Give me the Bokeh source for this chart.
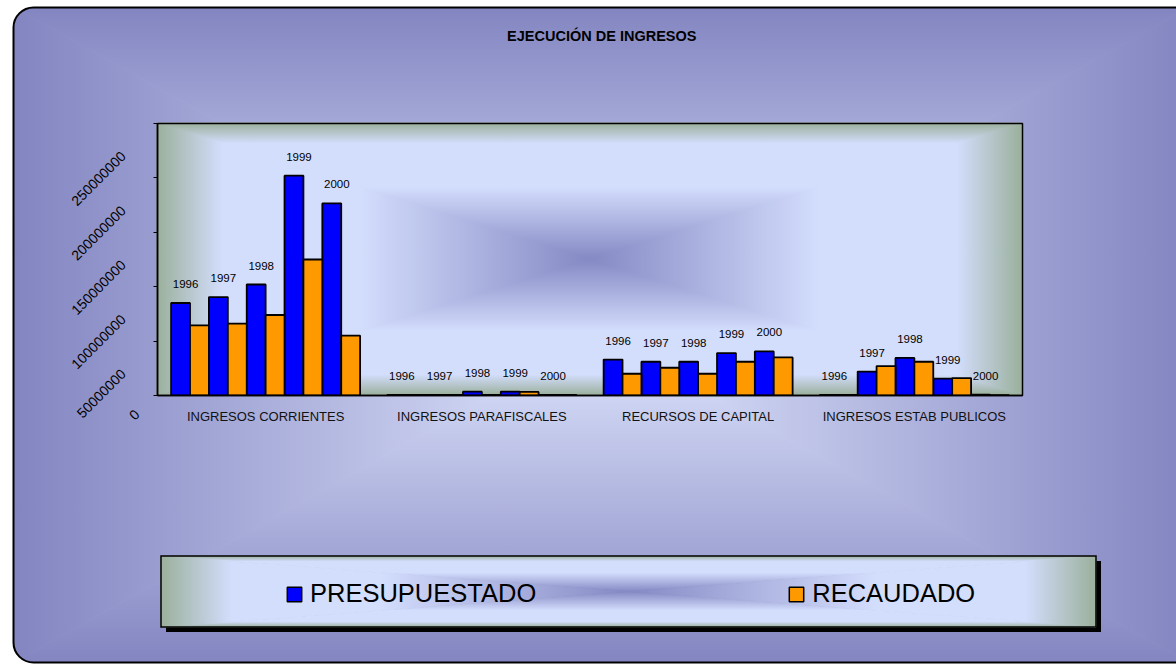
import base64
from math import pi

from bokeh.plotting import figure
from bokeh.layouts import column
from bokeh.models import Range1d, FixedTicker, Legend, LegendItem, Label
from bokeh.core.properties import value
from bokeh.embed import file_html
from bokeh.resources import INLINE

# ---------------- data ----------------
categories = ["INGRESOS CORRIENTES", "INGRESOS PARAFISCALES",
              "RECURSOS DE CAPITAL", "INGRESOS ESTAB PUBLICOS"]
years = ["1996", "1997", "1998", "1999", "2000"]

presup_corrientes = [85e6, 90.5e6, 102e6, 202e6, 176.5e6]
recaud_corrientes = [64.5e6, 66e6, 74e6, 125e6, 55e6]
presup_parafiscales = [0.6e6, 0.6e6, 3.5e6, 3.5e6, 0.6e6]
recaud_parafiscales = [0.6e6, 0.6e6, 0.6e6, 3.3e6, 0.6e6]
presup_capital = [33e6, 31e6, 31e6, 39e6, 40.5e6]
recaud_capital = [20e6, 25.5e6, 20e6, 31e6, 35e6]
presup_estab = [0.6e6, 22e6, 34.5e6, 15.5e6, 0.8e6]
recaud_estab = [0.6e6, 27e6, 31e6, 16e6, 0.3e6]

y_ticks = [0, 50000000, 100000000, 150000000, 200000000, 250000000]
y_tick_labels = ["0", "50000000", "100000000", "150000000", "200000000", "250000000"]

series_names = ["PRESUPUESTADO", "RECAUDADO"]
series_colors = ["#0000ff", "#ff9900"]
title_text = "EJECUCIÓN DE INGRESOS"

presup_all = [presup_corrientes, presup_parafiscales, presup_capital, presup_estab]
recaud_all = [recaud_corrientes, recaud_parafiscales, recaud_capital, recaud_estab]

# ---------------- geometry (category slots) ----------------
GROUP = 0.874
BW = GROUP / 10.0

bx, bt, ox, ot, lx, ly, lt = [], [], [], [], [], [], []
for i, cat in enumerate(categories):
    start = i + 0.5 - GROUP / 2
    for j, yr in enumerate(years):
        xb = start + (2 * j + 0.5) * BW
        xo = start + (2 * j + 1.5) * BW
        bx.append(xb); bt.append(presup_all[i][j])
        ox.append(xo); ot.append(recaud_all[i][j])
        lx.append(xb); ly.append(presup_all[i][j]); lt.append(yr)

W, H = 1176, 665
H0, H1 = 60, 485          # title strip, chart; legend strip gets the rest
H2 = H - H0 - H1
FL, FR, FT, FB = 157, 1022, 123, 395   # frame in page px
FONT = "Liberation Sans"


# ---------------- decorative background (SVG as CSS background) ----------------
def rect_gradient(gid, x0, y0, x1, y1, stops):
    cx, cy = (x0 + x1) / 2.0, (y0 + y1) / 2.0
    st = "".join(f'<stop offset="{o}" stop-color="{c}"/>' for o, c in stops)
    defs = (
        f'<linearGradient id="{gid}t" gradientUnits="userSpaceOnUse" x1="0" y1="{y0}" x2="0" y2="{cy}">{st}</linearGradient>'
        f'<linearGradient id="{gid}b" gradientUnits="userSpaceOnUse" x1="0" y1="{y1}" x2="0" y2="{cy}">{st}</linearGradient>'
        f'<linearGradient id="{gid}l" gradientUnits="userSpaceOnUse" x1="{x0}" y1="0" x2="{cx}" y2="0">{st}</linearGradient>'
        f'<linearGradient id="{gid}r" gradientUnits="userSpaceOnUse" x1="{x1}" y1="0" x2="{cx}" y2="0">{st}</linearGradient>'
    )
    polys = (
        f'<polygon points="{x0},{y0} {x1},{y0} {cx},{cy}" fill="url(#{gid}t)" stroke="url(#{gid}t)" stroke-width="1"/>'
        f'<polygon points="{x0},{y1} {x1},{y1} {cx},{cy}" fill="url(#{gid}b)" stroke="url(#{gid}b)" stroke-width="1"/>'
        f'<polygon points="{x0},{y0} {x0},{y1} {cx},{cy}" fill="url(#{gid}l)" stroke="url(#{gid}l)" stroke-width="1"/>'
        f'<polygon points="{x1},{y0} {x1},{y1} {cx},{cy}" fill="url(#{gid}r)" stroke="url(#{gid}r)" stroke-width="1"/>'
    )
    return defs, polys


outer_stops = [(0, "#8385c1"), (1, "#dfe6fd")]
inner_stops = [(0, "#9bb09c"), (0.15, "#d3ddfc"), (0.47, "#d3ddfc"), (1, "#8589c4")]

d1, p1 = rect_gradient("o", 13, 7, 1190, 663, outer_stops)
d2, p2 = rect_gradient("f", FL, FT, FR, FB, inner_stops)
LX0, LY0, LX1, LY1 = 161, 556, 1096, 627
d3, p3 = rect_gradient("g", LX0, LY0, LX1, LY1, inner_stops)

svg = (
    f'<svg xmlns="http://www.w3.org/2000/svg" width="{W}" height="{H}">'
    f'<defs>{d1}{d2}{d3}<clipPath id="clip"><rect x="13.5" y="7.5" width="1200" height="655" rx="20" ry="20"/></clipPath></defs>'
    f'<g clip-path="url(#clip)">{p1}</g>'
    f'<rect x="13.5" y="7.5" width="1200" height="655" rx="20" ry="20" fill="none" stroke="#000" stroke-width="2"/>'
    f'{p2}'
    f'<rect x="{LX0 + 5}" y="{LY0 + 5}" width="{LX1 - LX0}" height="{LY1 - LY0}" fill="#000"/>'
    f'{p3}'
    f'<rect x="{LX0}" y="{LY0}" width="{LX1 - LX0}" height="{LY1 - LY0}" fill="none" stroke="#000" stroke-width="1.5"/>'
    f'</svg>'
)
b64 = base64.b64encode(svg.encode("utf-8")).decode("ascii")


def bare_figure(height, xr, yr):
    f = figure(width=W, height=height, x_range=xr, y_range=yr,
               output_backend="svg", toolbar_location=None,
               x_axis_type=None, y_axis_type=None,
               min_border=0, min_border_left=0, min_border_right=0,
               min_border_top=0, min_border_bottom=0)
    f.background_fill_color = None
    f.border_fill_color = None
    f.outline_line_color = None
    f.grid.visible = False
    return f


# ---------------- title strip ----------------
p_title = bare_figure(H0, Range1d(0, W), Range1d(0, H0))
p_title.add_layout(Label(x=604, y=H0 - 35.6, text=title_text,
                         text_align="center", text_baseline="middle",
                         text_font=FONT, text_font_style="bold",
                         text_font_size="14.5px", text_color="black"))

# ---------------- chart ----------------
p = figure(width=W, height=H1, x_range=Range1d(0, 4), y_range=Range1d(0, 250e6),
           output_backend="svg", toolbar_location=None,
           min_border_left=FL, min_border_right=W - FR,
           min_border_top=FT - H0, min_border_bottom=H0 + H1 - FB)
p.background_fill_color = None
p.border_fill_color = None
p.outline_line_color = "black"
p.outline_line_width = 1.5
p.xgrid.visible = False
p.ygrid.visible = False

r_blue = p.vbar(x=bx, top=bt, bottom=0, width=BW, fill_color=series_colors[0],
                line_color="black", line_width=1.8)
r_orange = p.vbar(x=ox, top=ot, bottom=0, width=BW, fill_color=series_colors[1],
                  line_color="black", line_width=1.8)

p.text(x=lx, y=ly, text=lt, text_align="center", text_baseline="middle",
       x_offset=5, y_offset=-19, text_font=value(FONT), text_font_size="11.5px",
       text_color="black")

# x axis
p.xaxis.ticker = FixedTicker(ticks=[0.5, 1.5, 2.5, 3.5])
p.xaxis.major_label_overrides = {0.5: categories[0], 1.5: categories[1],
                                 2.5: categories[2], 3.5: categories[3]}
p.xaxis.major_tick_line_color = None
p.xaxis.minor_tick_line_color = None
p.xaxis.axis_line_color = "black"
p.xaxis.axis_line_width = 1.5
p.xaxis.major_label_standoff = 7
p.xaxis.major_label_text_font = FONT
p.xaxis.major_label_text_font_size = "13px"
p.xaxis.major_label_text_color = "#111111"

# y axis: rotated labels, padded at their end with no-break spaces so that
# the digits sit lower-left along the 45 degree line, as in the reference
NBSP = "\u00a0"
p.yaxis.ticker = FixedTicker(ticks=y_ticks)
p.yaxis.major_label_overrides = {
    t: s + NBSP * (11 if len(s) > 1 else 6) for t, s in zip(y_ticks, y_tick_labels)
}
p.yaxis.major_label_orientation = pi / 4
p.yaxis.major_label_standoff = 0
p.yaxis.major_tick_out = 4
p.yaxis.major_tick_in = 0
p.yaxis.major_tick_line_color = "black"
p.yaxis.minor_tick_line_color = None
p.yaxis.axis_line_color = "black"
p.yaxis.axis_line_width = 1.5
p.yaxis.major_label_text_font = FONT
p.yaxis.major_label_text_font_size = "14px"
p.yaxis.major_label_text_color = "black"

# ---------------- legend strip (its frame is aligned with the chart frame) ----------------
p_leg = bare_figure(H2, Range1d(0, 1), Range1d(0, 1))
# legend-only swatch renderers (hidden; the legend still draws their swatches)
leg_r = [p_leg.vbar(x=[0.5], top=[0.5], bottom=0, width=0.1, fill_color=c,
                    line_color="black", line_width=1.5, visible=False)
         for c in series_colors]
legend = Legend(items=[LegendItem(label=n, renderers=[r]) for n, r in zip(series_names, leg_r)],
                orientation="horizontal", location=(285 - FL, 57),
                glyph_width=18, glyph_height=18, label_height=26, label_standoff=7,
                spacing=251, padding=10, margin=0,
                border_line_color=None, background_fill_alpha=0,
                label_text_font=FONT, label_text_font_size="25.5px",
                label_text_color="black")
p_leg.add_layout(legend, "center")

layout = column(p_title, p, p_leg, spacing=0)
layout.styles = {
    "background-image": f"url('data:image/svg+xml;base64,{b64}')",
    "background-repeat": "no-repeat",
    "background-size": f"{W}px {H}px",
    "background-position": "0 0",
}

open("out.html", "w").write(file_html(layout, INLINE))
